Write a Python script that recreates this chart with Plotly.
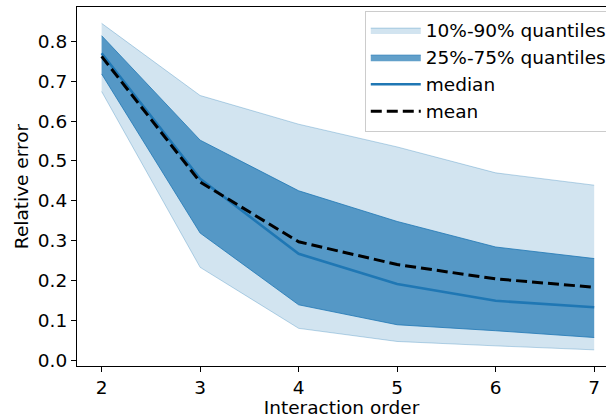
import plotly.graph_objects as go

# Interaction order on the x axis
orders = [2, 3, 4, 5, 6, 7]

# Relative-error statistics per interaction order
q10 = [0.674, 0.233, 0.080, 0.047, 0.036, 0.026]
q25 = [0.718, 0.319, 0.139, 0.089, 0.074, 0.057]
median = [0.770, 0.455, 0.267, 0.191, 0.149, 0.133]
mean = [0.762, 0.447, 0.297, 0.240, 0.204, 0.183]
q75 = [0.814, 0.552, 0.425, 0.348, 0.284, 0.255]
q90 = [0.845, 0.664, 0.592, 0.535, 0.470, 0.439]

x_ticks = [2, 3, 4, 5, 6, 7]
y_ticks = [0.0, 0.1, 0.2, 0.3, 0.4, 0.5, 0.6, 0.7, 0.8]

BLUE = "31,119,180"
light_fill = f"rgba({BLUE},0.2)"
light_edge = f"rgba({BLUE},0.3)"
dark_fill = f"rgba({BLUE},0.7)"
dark_edge = f"rgba({BLUE},0.8)"

FONT = "DejaVu Sans"
FS = 18.5

fig = go.Figure()

# 10%-90% band
fig.add_trace(go.Scatter(x=orders, y=q10, mode="lines",
                         line=dict(color=light_edge, width=1),
                         showlegend=False, hoverinfo="skip"))
fig.add_trace(go.Scatter(x=orders, y=q90, mode="lines", fill="tonexty",
                         fillcolor=light_fill,
                         line=dict(color=light_edge, width=1),
                         name="10%-90% quantiles", legendgroup="a"))

# 25%-75% band
fig.add_trace(go.Scatter(x=orders, y=q25, mode="lines",
                         line=dict(color=dark_edge, width=1),
                         showlegend=False, hoverinfo="skip"))
fig.add_trace(go.Scatter(x=orders, y=q75, mode="lines", fill="tonexty",
                         fillcolor=dark_fill,
                         line=dict(color=dark_edge, width=1),
                         name="25%-75% quantiles", legendgroup="b"))

# median and mean
fig.add_trace(go.Scatter(x=orders, y=median, mode="lines",
                         line=dict(color=f"rgb({BLUE})", width=2.6),
                         name="median", legendgroup="c"))
fig.add_trace(go.Scatter(x=orders, y=mean, mode="lines",
                         line=dict(color="black", width=3, dash="11px,5px"),
                         name="mean", legendgroup="d"))

fig.update_layout(
    width=606, height=418,
    margin=dict(l=77, r=0, t=7, b=52, autoexpand=False),
    paper_bgcolor="white", plot_bgcolor="white",
    font=dict(family=FONT, size=FS, color="black"),
    legend=dict(
        x=0.544, y=0.99, xanchor="left", yanchor="top",
        bgcolor="rgba(255,255,255,0.8)", bordercolor="#cccccc", borderwidth=1,
        font=dict(family=FONT, size=FS, color="black"),
        traceorder="grouped", tracegroupgap=0, itemwidth=50,
    ),
    xaxis=dict(
        range=[1.75, 7.12], tickvals=x_ticks, ticktext=[str(v) for v in x_ticks],
        showgrid=False, zeroline=False,
        showline=True, linecolor="black", linewidth=1.2, mirror=True,
        ticks="outside", ticklen=5, tickwidth=1.2, tickcolor="black",
        title=dict(text="Interaction order", standoff=4,
                   font=dict(family=FONT, size=FS)),
    ),
    yaxis=dict(
        range=[-0.0145, 0.886], tickvals=y_ticks,
        ticktext=[f"{v:.1f}" for v in y_ticks],
        showgrid=False, zeroline=False,
        showline=True, linecolor="black", linewidth=1.2, mirror=False,
        ticks="outside", ticklen=5, tickwidth=1.2, tickcolor="black",
        title=dict(text="Relative error", standoff=4,
                   font=dict(family=FONT, size=FS)),
    ),
)

fig.write_html("out.html")
